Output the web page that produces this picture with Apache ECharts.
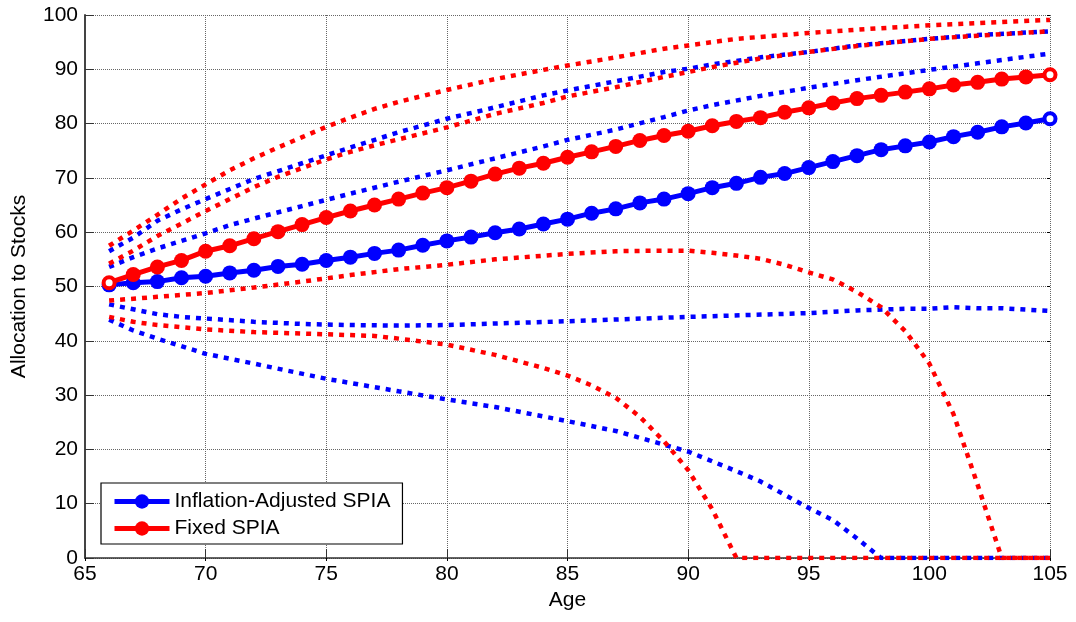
<!DOCTYPE html>
<html>
<head>
<meta charset="utf-8">
<script src="https://cdn.jsdelivr.net/npm/echarts@6/dist/echarts.min.js"></script>
<style>
  html, body { margin: 0; padding: 0; background: #fff; }
  #chart { width: 1076px; height: 622px; }
</style>
</head>
<body>
<div id="chart"></div>
<script>
// ages for the solid (marked) lines
const ages = [66, 67, 68, 69, 70, 71, 72, 73, 74, 75, 76, 77, 78, 79, 80, 81, 82, 83, 84, 85,
  86, 87, 88, 89, 90, 91, 92, 93, 94, 95, 96, 97, 98, 99, 100, 101, 102, 103, 104, 105];

const inflationAdj = [50.3, 50.7, 50.9, 51.6, 51.9, 52.5, 53.0, 53.7, 54.1, 54.8, 55.4, 56.1, 56.7, 57.6, 58.4,
  59.1, 59.9, 60.6, 61.5, 62.4, 63.5, 64.3, 65.4, 66.1, 67.1, 68.2, 69.0, 70.1, 70.8, 71.9,
  73.0, 74.1, 75.2, 75.9, 76.6, 77.6, 78.4, 79.4, 80.1, 80.9];

const fixedSpia = [50.7, 52.2, 53.6, 54.8, 56.5, 57.5, 58.8, 60.1, 61.4, 62.7, 63.9, 65.0, 66.1, 67.2, 68.2,
  69.4, 70.7, 71.8, 72.7, 73.8, 74.8, 75.8, 76.9, 77.8, 78.6, 79.6, 80.4, 81.1, 82.1, 82.9,
  83.8, 84.6, 85.2, 85.8, 86.4, 87.1, 87.6, 88.2, 88.6, 89.0];

// dotted percentile bands, [age, value]
const blueBand1 = [[66, 56.5], [67, 59.0], [68, 62.1], [69, 64.2], [70, 66.1], [72, 69.8], [74, 72.7], [76, 75.6],
  [78, 78.4], [80, 80.9], [82, 83.0], [84, 85.2], [85, 86.1], [87, 87.8], [89, 89.5], [90, 90.1], [91, 90.9],
  [93, 92.2], [95, 93.2], [97, 94.4], [100, 95.6], [102, 96.3], [105, 97.0]];
const blueBand2 = [[66, 53.6], [67, 55.4], [68, 57.0], [69, 58.4], [70, 59.8], [71, 61.3], [72, 62.5], [74, 64.8],
  [76, 67.1], [78, 69.3], [80, 71.4], [82, 73.6], [84, 75.8], [85, 77.0], [87, 78.9], [89, 81.2], [90, 82.4],
  [91, 83.4], [93, 85.1], [95, 86.6], [97, 88.0], [100, 89.9], [102, 91.1], [105, 92.9]];
const blueBand3 = [[66, 46.7], [67, 45.8], [68, 44.9], [69, 44.4], [70, 44.1], [72, 43.5], [74, 43.1], [76, 42.9],
  [78, 42.8], [80, 42.9], [85, 43.6], [90, 44.4], [95, 45.1], [97, 45.6], [99, 45.9], [100, 45.9], [101, 46.2],
  [102, 46.0], [103, 46.0], [105, 45.5]];
const blueBand4 = [[66, 43.9], [67, 41.9], [68, 40.4], [70, 37.6], [72, 35.8], [75, 33.0], [78, 30.7], [80, 29.2],
  [82, 27.8], [85, 25.2], [87, 23.4], [90, 19.6], [92, 16.0], [93, 14.1], [95, 9.2], [96, 7.0], [97, 3.6],
  [98, 0], [105, 0]];

const redBand1 = [[66, 57.5], [67, 60.3], [68, 63.2], [69, 66.2], [70, 68.8], [71, 71.4], [72, 73.6], [73, 75.6],
  [74, 77.5], [75, 79.4], [76, 81.1], [77, 82.7], [78, 84.0], [80, 86.2], [82, 88.2], [84, 89.9], [85, 90.7],
  [87, 92.2], [89, 93.8], [90, 94.4], [92, 95.6], [95, 96.7], [97, 97.3], [100, 98.1], [105, 99.1]];
const redBand2 = [[66, 54.2], [67, 56.6], [68, 59.3], [69, 61.6], [70, 63.9], [71, 66.1], [72, 68.3], [73, 70.2],
  [74, 71.8], [75, 73.4], [76, 74.8], [77, 76.0], [78, 77.1], [80, 79.3], [82, 81.8], [84, 83.8], [85, 85.0],
  [87, 86.7], [89, 88.6], [90, 89.5], [91, 90.4], [93, 92.0], [95, 93.2], [97, 94.3], [100, 95.6], [102, 96.2],
  [105, 97.0]];
const redBand3 = [[66, 47.4], [68, 48.1], [70, 48.8], [72, 49.8], [74, 50.9], [76, 52.1], [78, 53.2], [80, 54.0],
  [82, 55.0], [85, 56.0], [87, 56.5], [89, 56.6], [90, 56.6], [91, 56.2], [92, 55.7], [93, 55.1], [94, 54.0],
  [95, 52.6], [96, 51.3], [97, 49.0], [98, 46.2], [99, 41.8], [100, 35.8], [101, 26.5], [102, 13.5], [103, 0],
  [105, 0]];
const redBand4 = [[66, 44.4], [67, 43.5], [68, 42.9], [69, 42.5], [70, 42.1], [72, 41.6], [75, 41.2], [77, 40.9],
  [78, 40.4], [80, 39.3], [82, 37.4], [84, 35.0], [85, 33.6], [86, 31.8], [87, 29.5], [88, 26.0], [89, 21.5],
  [90, 16.2], [91, 9.0], [92, 0], [105, 0]];

const xTicks = [65, 70, 75, 80, 85, 90, 95, 100, 105];
const yTicks = [0, 10, 20, 30, 40, 50, 60, 70, 80, 90, 100];

const BLUE = '#0000ff';
const RED = '#ff0000';
const FONT = '"Liberation Sans", Arial, Helvetica, sans-serif';

// dotted band line
const band = (data, color) => ({
  type: 'line',
  data,
  symbol: 'none',
  silent: true,
  lineStyle: { color, width: 4.5, type: [5, 6], cap: 'butt' }
});

// solid line with round markers; the points in hollowAt get a white centre
const marked = (name, values, color, hollowAt) => ({
  type: 'line',
  name,
  data: values.map((v, i) => {
    const age = ages[i];
    if (hollowAt.indexOf(age) === -1) return [age, v];
    return {
      value: [age, v],
      symbolSize: 11,
      itemStyle: { color: '#fff', borderColor: color, borderWidth: 4 }
    };
  }),
  symbol: 'circle',
  symbolSize: 15,
  itemStyle: { color },
  lineStyle: { color, width: 5 }
});

const chart = echarts.init(document.getElementById('chart'));

const option = {
  animation: false,
  backgroundColor: '#fff',
  textStyle: { fontFamily: FONT },
  grid: { left: 85, right: 26, top: 15, bottom: 64 },
  legend: {
    data: ['Inflation-Adjusted SPIA', 'Fixed SPIA'],
    orient: 'vertical',
    left: 101,
    top: 483,
    itemWidth: 55,
    itemHeight: 18,
    itemGap: 6,
    padding: [8, 12, 5, 11],
    borderColor: '#000',
    borderWidth: 1.2,
    backgroundColor: '#fff',
    selectedMode: false,
    lineStyle: { width: 5 },
    textStyle: { fontSize: 21, color: '#000', fontFamily: FONT }
  },
  xAxis: [{
    type: 'value',
    min: xTicks[0],
    max: xTicks[xTicks.length - 1],
    interval: 5,
    name: 'Age',
    nameLocation: 'middle',
    nameGap: 31,
    nameTextStyle: { fontSize: 21, color: '#000', fontFamily: FONT },
    axisLine: { show: true, lineStyle: { color: '#333', width: 1.5 } },
    axisTick: { show: true, inside: true, length: 9, lineStyle: { color: '#333' } },
    axisLabel: { fontSize: 21, color: '#000', margin: 6, fontFamily: FONT },
    splitLine: { show: true, lineStyle: { color: '#666', width: 1, type: [1, 1] } }
  }, {
    type: 'value',
    position: 'top',
    min: xTicks[0],
    max: xTicks[xTicks.length - 1],
    interval: 5,
    axisLine: { show: false },
    axisTick: { show: true, inside: true, length: 3, lineStyle: { color: '#000' } },
    axisLabel: { show: false },
    splitLine: { show: false }
  }],
  yAxis: [{
    type: 'value',
    min: yTicks[0],
    max: yTicks[yTicks.length - 1],
    interval: 10,
    name: 'Allocation to Stocks',
    nameLocation: 'middle',
    nameGap: 55,
    nameTextStyle: { fontSize: 21, color: '#000', fontFamily: FONT },
    axisLine: { show: true, lineStyle: { color: '#444', width: 2 } },
    axisTick: { show: true, inside: true, length: 9, lineStyle: { color: '#333' } },
    axisLabel: { fontSize: 21, color: '#000', margin: 7, fontFamily: FONT },
    splitLine: { show: true, lineStyle: { color: '#666', width: 1, type: [1, 1] } }
  }, {
    type: 'value',
    position: 'right',
    min: yTicks[0],
    max: yTicks[yTicks.length - 1],
    interval: 10,
    axisLine: { show: false },
    axisTick: { show: true, inside: true, length: 3, lineStyle: { color: '#000' } },
    axisLabel: { show: false },
    splitLine: { show: false }
  }],
  series: [
    band(blueBand1, BLUE),
    band(blueBand2, BLUE),
    band(blueBand3, BLUE),
    band(blueBand4, BLUE),
    band(redBand1, RED),
    band(redBand2, RED),
    band(redBand3, RED),
    band(redBand4, RED),
    marked('Inflation-Adjusted SPIA', inflationAdj, BLUE, [105]),
    marked('Fixed SPIA', fixedSpia, RED, [66, 105])
  ]
};

chart.setOption(option);
</script>
</body>
</html>
